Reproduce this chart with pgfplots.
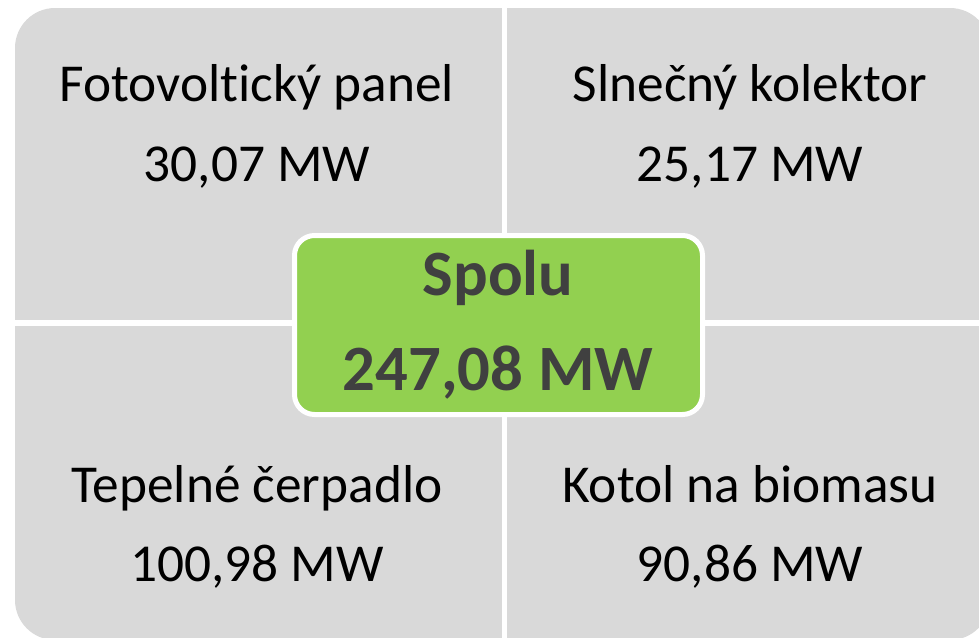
\documentclass[border=0pt]{standalone}
\usepackage{pgfplots}
\pgfplotsset{compat=1.18}
\usepackage{fontspec}
\setmainfont{Carlito}[Ligatures=NoCommon]
\definecolor{bggray}{HTML}{D9D9D9}
\definecolor{boxgreen}{HTML}{92D050}
\definecolor{darktext}{HTML}{404040}
\begin{document}
\begin{tikzpicture}
\begin{axis}[
  width=734.25pt, height=477.75pt, scale only axis,
  xmin=0, xmax=979, ymin=0, ymax=637, y dir=reverse,
  hide axis, clip=true]
% gray background
\addplot[fill=bggray, draw=none, rounded corners=30pt] coordinates {(500,8) (990,8) (990,640) (15,640) (15,8)} -- cycle;
% white separators
\addplot[white, line width=3.75pt] coordinates {(504.5,0) (504.5,650)};
\addplot[white, line width=4.5pt] coordinates {(0,323) (1000,323)};
% center box
\addplot[fill=boxgreen, draw=white, line width=3.75pt, rounded corners=15pt] coordinates {(500,235.5) (702.5,235.5) (702.5,414.5) (294.5,414.5) (294.5,235.5)} -- cycle;
% labels
\node[anchor=base, font=\fontsize{40}{48}\selectfont] at (axis cs:257,101) {Fotovolt\kern0pt ický panel};
\node[anchor=base, font=\fontsize{40}{48}\selectfont] at (axis cs:257,181) {30,07 MW};
\node[anchor=base, font=\fontsize{40}{48}\selectfont] at (axis cs:750,101) {Slnečný kolektor};
\node[anchor=base, font=\fontsize{40}{48}\selectfont] at (axis cs:750,181) {25,17 MW};
\node[anchor=base, font=\fontsize{40}{48}\selectfont] at (axis cs:257,502) {Tepelné čerpadlo};
\node[anchor=base, font=\fontsize{40}{48}\selectfont] at (axis cs:257,581) {100,98 MW};
\node[anchor=base, font=\fontsize{40}{48}\selectfont] at (axis cs:750,502) {Kotol na biomasu};
\node[anchor=base, font=\fontsize{40}{48}\selectfont] at (axis cs:750,581) {90,86 MW};
\node[anchor=base, text=darktext, font=\bfseries\fontsize{48.5}{58}\selectfont] at (axis cs:498,295) {Spolu};
\node[anchor=base, text=darktext, font=\bfseries\fontsize{48.5}{58}\selectfont] at (axis cs:498,390) {247,08 MW};
\end{axis}
\pgfresetboundingbox
\useasboundingbox (current axis.south west) rectangle (current axis.north east);
\end{tikzpicture}
\end{document}
